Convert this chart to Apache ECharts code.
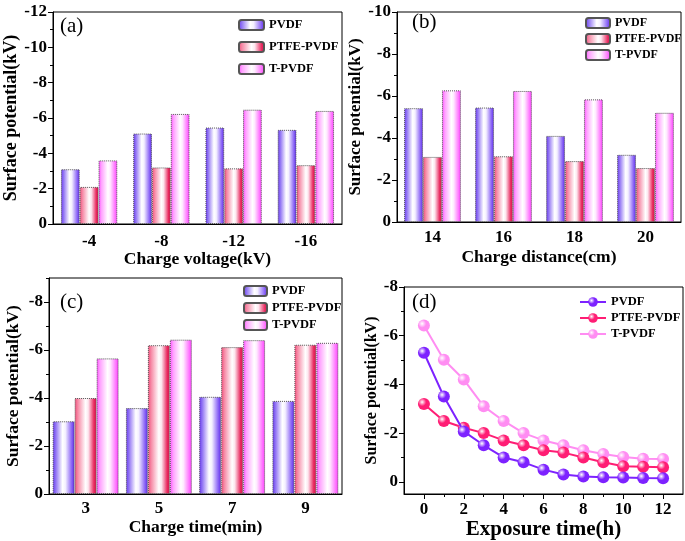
<!DOCTYPE html>
<html><head><meta charset="utf-8">
<script src="https://cdn.jsdelivr.net/npm/echarts@6/dist/echarts.min.js"></script>
<style>html,body{margin:0;padding:0;background:#fff}#c{width:685px;height:541px}</style>
</head><body><div id="c"></div>
<script>
// ---- data ----
const seriesNames = ['PVDF', 'PTFE-PVDF', 'T-PVDF'];
const catA = ['-4', '-8', '-12', '-16'];
const pvdfA = [-3.1, -5.12, -5.46, -5.33];
const ptfeA = [-2.1, -3.2, -3.15, -3.33];
const tpvdfA = [-3.6, -6.23, -6.47, -6.4];
const catB = ['14', '16', '18', '20'];
const pvdfB = [-5.42, -5.45, -4.1, -3.2];
const ptfeB = [-3.1, -3.13, -2.9, -2.57];
const tpvdfB = [-6.27, -6.24, -5.84, -5.2];
const catC = ['3', '5', '7', '9'];
const pvdfC = [-3.03, -3.58, -4.05, -3.88];
const ptfeC = [-4.0, -6.2, -6.12, -6.22];
const tpvdfC = [-5.65, -6.43, -6.41, -6.3];
const timeD = [0, 1, 2, 3, 4, 5, 6, 7, 8, 9, 10, 11, 12];
const pvdfD = [-5.3, -3.5, -2.07, -1.5, -1.0, -0.8, -0.5, -0.3, -0.22, -0.19, -0.18, -0.16, -0.15];
const ptfeD = [-3.2, -2.5, -2.22, -2.0, -1.7, -1.5, -1.3, -1.2, -1.0, -0.8, -0.64, -0.62, -0.6];
const tpvdfD = [-6.42, -5.01, -4.2, -3.1, -2.5, -2.0, -1.7, -1.5, -1.3, -1.14, -1.02, -0.95, -0.94];
const xTitles = ['Charge voltage(kV)', 'Charge distance(cm)', 'Charge time(min)', 'Exposure time(h)'];
const yTitle = 'Surface potential(kV)';
const panelLabels = ['(a)', '(b)', '(c)', '(d)'];

// ---- styles ----
const FONT = "'Liberation Serif','Times New Roman',serif";
function lg(stops) {
  return { type: 'linear', x: 0, y: 0, x2: 1, y2: 0,
    colorStops: stops.map(s => ({ offset: s[0], color: s[1] })) };
}
const barFills = [
  lg([[0, '#6636ee'], [0.15, '#9478f4'], [0.45, '#ffffff'], [0.58, '#f4f0ff'], [0.86, '#8c66f6'], [1, '#5a28e8']]),
  lg([[0, '#f04a78'], [0.15, '#f68aa6'], [0.5, '#ffffff'], [0.62, '#fde6ee'], [0.88, '#e8285e'], [1, '#de1450']]),
  lg([[0, '#ff48ff'], [0.15, '#ffa0ff'], [0.5, '#ffffff'], [0.62, '#ffeaff'], [0.87, '#ff78ff'], [1, '#ff3cff']])
];
const lineColors = ['#7d22ff', '#ff1d74', '#ff8df2'];
function ball(c) {
  return { type: 'radial', x: 0.35, y: 0.35, r: 0.75,
    colorStops: [{ offset: 0, color: '#ffffff' }, { offset: 0.45, color: c }, { offset: 1, color: c }] };
}

const grids = [
  { left: 53, top: 12, width: 289, height: 212 },
  { left: 397, top: 12, width: 284, height: 210 },
  { left: 49, top: 278, width: 293, height: 216 },
  { left: 404, top: 287, width: 279, height: 207 }
].map(g => Object.assign({ show: true, borderColor: '#000', borderWidth: 1, backgroundColor: 'transparent', outerBoundsMode: 'none', containLabel: false }, g));

const xAxes = [], yAxes = [], series = [], legends = [], graphics = [];
const lbl = (size) => ({ color: '#000', fontFamily: FONT, fontWeight: 'bold', fontSize: size });

function addBarPanel(gi, cats, vals, yMin, yMax, majors, minors, xNameGap, xLabelMargin, yNameGap, yNameSize, gapPct) {
  const xi = xAxes.length;
  xAxes.push({
    type: 'category', gridIndex: gi, data: cats, position: 'bottom',
    name: xTitles[gi], nameLocation: 'middle', nameGap: xNameGap,
    nameTextStyle: lbl(17.5),
    axisLine: { lineStyle: { color: '#000', width: 1 } },
    axisTick: { alignWithLabel: true, length: 5, lineStyle: { color: '#000' } },
    axisLabel: Object.assign(lbl(17), { margin: xLabelMargin })
  });
  xAxes.push({
    type: 'category', gridIndex: gi, data: cats, position: 'bottom',
    axisLine: { show: false }, axisLabel: { show: false },
    axisTick: { length: 3, lineStyle: { color: '#000' } }
  });
  const yi = yAxes.length;
  yAxes.push({
    type: 'value', gridIndex: gi, inverse: true, min: yMin, max: yMax, interval: 1, position: 'left',
    name: yTitle, nameLocation: 'middle', nameGap: yNameGap, nameTextStyle: lbl(yNameSize),
    splitLine: { show: false },
    axisLine: { show: true, lineStyle: { color: '#000', width: 1 } },
    axisTick: { show: true, length: 5, customValues: majors, lineStyle: { color: '#000' } },
    axisLabel: Object.assign(lbl(17), { margin: 6, customValues: majors })
  });
  yAxes.push({
    type: 'value', gridIndex: gi, inverse: true, min: yMin, max: yMax, interval: 1, position: 'left',
    splitLine: { show: false }, axisLine: { show: false }, axisLabel: { show: false },
    axisTick: { show: true, length: 3, customValues: minors, lineStyle: { color: '#000' } }
  });
  vals.forEach((v, k) => {
    series.push({
      type: 'bar', name: seriesNames[k], xAxisIndex: xi, yAxisIndex: yi, data: v,
      barGap: '0%', barCategoryGap: gapPct,
      itemStyle: { color: barFills[k], borderColor: '#555', borderWidth: 1, borderType: 'dotted' }
    });
  });
}

addBarPanel(0, catA, [pvdfA, ptfeA, tpvdfA], -12, 0, [-12, -10, -8, -6, -4, -2, 0], [-11, -9, -7, -5, -3, -1], 25, 9, 27, 18, '22%');
addBarPanel(1, catB, [pvdfB, ptfeB, tpvdfB], -10, 0, [-10, -8, -6, -4, -2, 0], [-9, -7, -5, -3, -1], 26, 7, 20, 17, '20%');
addBarPanel(2, catC, [pvdfC, ptfeC, tpvdfC], -9, 0, [-8, -6, -4, -2, 0], [-9, -7, -5, -3, -1], 24, 6, 27, 17.5, '10%');

// panel d (line)
{
  const gi = 3;
  const xi = xAxes.length;
  xAxes.push({
    type: 'value', gridIndex: gi, min: -1, max: 13, interval: 1, position: 'bottom',
    name: xTitles[3], nameLocation: 'middle', nameGap: 23, nameTextStyle: lbl(21),
    splitLine: { show: false },
    axisLine: { show: true, onZero: false, lineStyle: { color: '#000' } },
    axisTick: { show: true, length: 5, customValues: [0, 2, 4, 6, 8, 10, 12], lineStyle: { color: '#000' } },
    axisLabel: Object.assign(lbl(17), { margin: 7, customValues: [0, 2, 4, 6, 8, 10, 12] })
  });
  xAxes.push({
    type: 'value', gridIndex: gi, min: -1, max: 13, interval: 1, position: 'bottom',
    splitLine: { show: false }, axisLine: { show: false, onZero: false }, axisLabel: { show: false },
    axisTick: { show: true, length: 3, customValues: [1, 3, 5, 7, 9, 11], lineStyle: { color: '#000' } }
  });
  const yi = yAxes.length;
  yAxes.push({
    type: 'value', gridIndex: gi, inverse: true, min: -8, max: 0.5, interval: 1, position: 'left',
    name: yTitle, nameLocation: 'middle', nameGap: 24, nameTextStyle: lbl(16),
    splitLine: { show: false },
    axisLine: { show: true, onZero: false, lineStyle: { color: '#000' } },
    axisTick: { show: true, length: 5, customValues: [-8, -6, -4, -2, 0], lineStyle: { color: '#000' } },
    axisLabel: Object.assign(lbl(17), { margin: 6, customValues: [-8, -6, -4, -2, 0] })
  });
  yAxes.push({
    type: 'value', gridIndex: gi, inverse: true, min: -8, max: 0.5, interval: 1, position: 'left',
    splitLine: { show: false }, axisLine: { show: false, onZero: false }, axisLabel: { show: false },
    axisTick: { show: true, length: 3, customValues: [-7, -5, -3, -1], lineStyle: { color: '#000' } }
  });
  [pvdfD, ptfeD, tpvdfD].forEach((v, k) => {
    series.push({
      type: 'line', name: 'd:' + seriesNames[k], xAxisIndex: xi, yAxisIndex: yi,
      data: timeD.map((t, i) => [t, v[i]]),
      symbol: 'circle', symbolSize: 12,
      lineStyle: { color: lineColors[k], width: 2 },
      itemStyle: { color: ball(lineColors[k]) },
      z: 3 + (2 - k)
    });
  });
}

// legends
function addLegend(names, left, top, gap, iw, ih, fs) {
  legends.push({
    data: names, left: left, top: top, orient: 'vertical', itemGap: gap,
    itemWidth: iw, itemHeight: ih, selectedMode: false,
    formatter: n => n.replace(/^d:/, ''),
    textStyle: { color: '#000', fontFamily: FONT, fontWeight: 'bold', fontSize: fs, lineHeight: 14, padding: [0, 0, 0, 0] },
    padding: 0
  });
}
addLegend(seriesNames, 238, 18, 8, 25, 10, 12.5);
addLegend(seriesNames, 585, 16, 2, 24, 10, 12);
addLegend(seriesNames, 243, 284, 3, 23, 10, 12.5);
addLegend(seriesNames.map(n => 'd:' + n), 579, 295, 2, 26, 12, 12.5);

// panel labels
[[60, 16], [412, 12], [60, 292], [412, 292]].forEach((p, i) => {
  graphics.push({ type: 'text', left: p[0], top: p[1],
    style: { text: panelLabels[i], font: '21px ' + FONT, fill: '#000' } });
});

const chart = echarts.init(document.getElementById('c'), null, { renderer: 'canvas' });
chart.setOption({
  backgroundColor: '#ffffff',
  animation: false,
  grid: grids, xAxis: xAxes, yAxis: yAxes, series: series, legend: legends, graphic: graphics
});
</script></body></html>
